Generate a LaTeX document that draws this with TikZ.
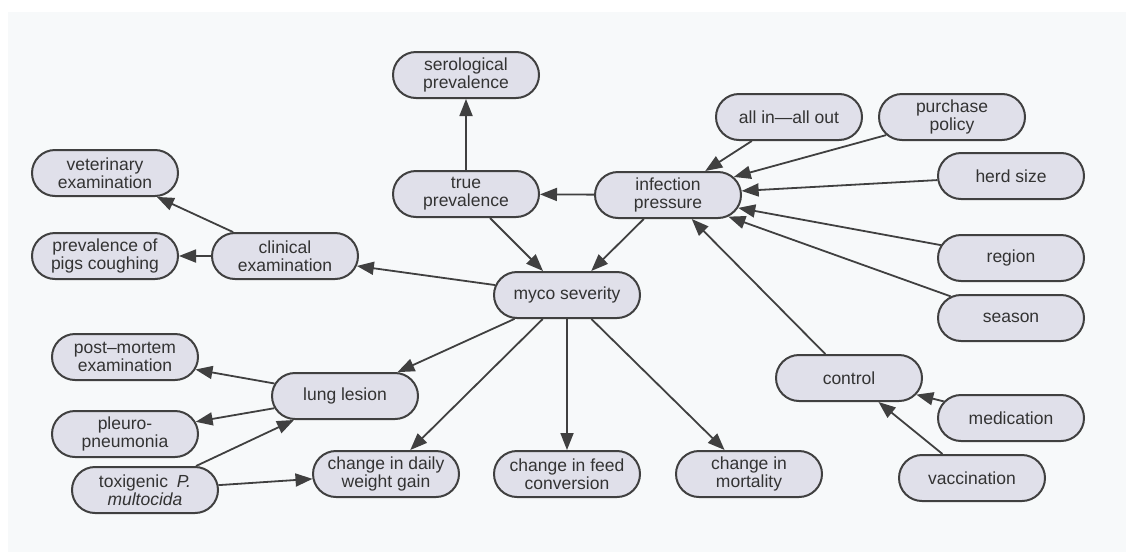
\documentclass[tikz,border=0pt]{standalone}
\usepackage{fontspec}
\setmainfont{Liberation Sans}
\usetikzlibrary{shapes.misc,arrows.meta}
\definecolor{pill}{HTML}{E0E0EA}
\definecolor{ink}{HTML}{404040}
\definecolor{label}{HTML}{333333}
\definecolor{paper}{HTML}{F7F9FA}
\begin{document}
\begin{tikzpicture}[x=1pt,y=-1pt,
  concept/.style={rounded rectangle, draw=ink, line width=2pt, fill=pill,
    minimum width=146pt, minimum height=46pt, inner sep=0pt, align=center,
    text=label, font=\fontsize{17.5}{18}\selectfont},
  link/.style={draw=ink, line width=1.8pt, -{Triangle[length=17pt,width=13pt]}}]

% page and faint paper tone
\fill[white] (0,0) rectangle (1126,552);
\fill[paper] (8,12) rectangle (1126,552);
\useasboundingbox (0,0) rectangle (1126,552);

% concepts
\node[concept] (sero)     at (466,75)  {serological\\prevalence};
\node[concept] (vet)      at (105,173) {veterinary\\examination};
\node[concept] (trueprev) at (466,194) {true\\prevalence};
\node[concept] (infp)     at (668,195) {infection\\pressure};
\node[concept] (allin)    at (789,117) {all in---all out};
\node[concept] (purchase) at (952,117) {purchase\\policy};
\node[concept] (herd)     at (1011,176) {herd size};
\node[concept] (pigs)     at (105,256) {prevalence of\\pigs coughing};
\node[concept] (clinical) at (285,256) {clinical\\examination};
\node[concept] (myco)     at (567,295) {myco severity};
\node[concept] (region)   at (1011,258) {region};
\node[concept] (season)   at (1011,318) {season};
\node[concept] (postm)    at (125,357) {post--mortem\\examination};
\node[concept] (lung)     at (345,396) {lung lesion};
\node[concept] (control)  at (849,378) {control};
\node[concept] (pleuro)   at (125,434) {pleuro-\\pneumonia};
\node[concept] (medic)    at (1011,418) {medication};
\node[concept] (toxi)     at (145,490) {toxigenic\enspace\textit{P.}\\\textit{multocida}};
\node[concept] (dwg)      at (386,474) {change in daily\\weight gain};
\node[concept] (feed)     at (567,474) {change in feed\\conversion};
\node[concept] (mort)     at (749,474) {change in\\mortality};
\node[concept] (vacc)     at (972,478) {vaccination};

% influences
\draw[link] (trueprev) -- (sero);
\draw[link] (infp) -- (trueprev);
\draw[link] (trueprev) -- (myco);
\draw[link] (infp) -- (myco);
\draw[link] (clinical) -- (vet);
\draw[link] (clinical) -- (pigs);
\draw[link] (myco) -- (clinical);

\draw[link] (allin) -- (infp);
\draw[link] (purchase) -- (infp);
\draw[link] (herd) -- (infp);
\draw[link] (region) -- (infp);
\draw[link] (season) -- (infp);
\draw[link] (control) -- (infp);
\draw[link] (medic) -- (control);
\draw[link] (vacc) -- (control);

\draw[link] (myco) -- (lung);
\draw[link] (myco) -- (dwg);
\draw[link] (myco) -- (feed);
\draw[link] (myco) -- (mort);
\draw[link] (lung) -- (postm);
\draw[link] (lung) -- (pleuro);
\draw[link] (toxi) -- (lung);
\draw[link] (toxi) -- (dwg);
\end{tikzpicture}
\end{document}
